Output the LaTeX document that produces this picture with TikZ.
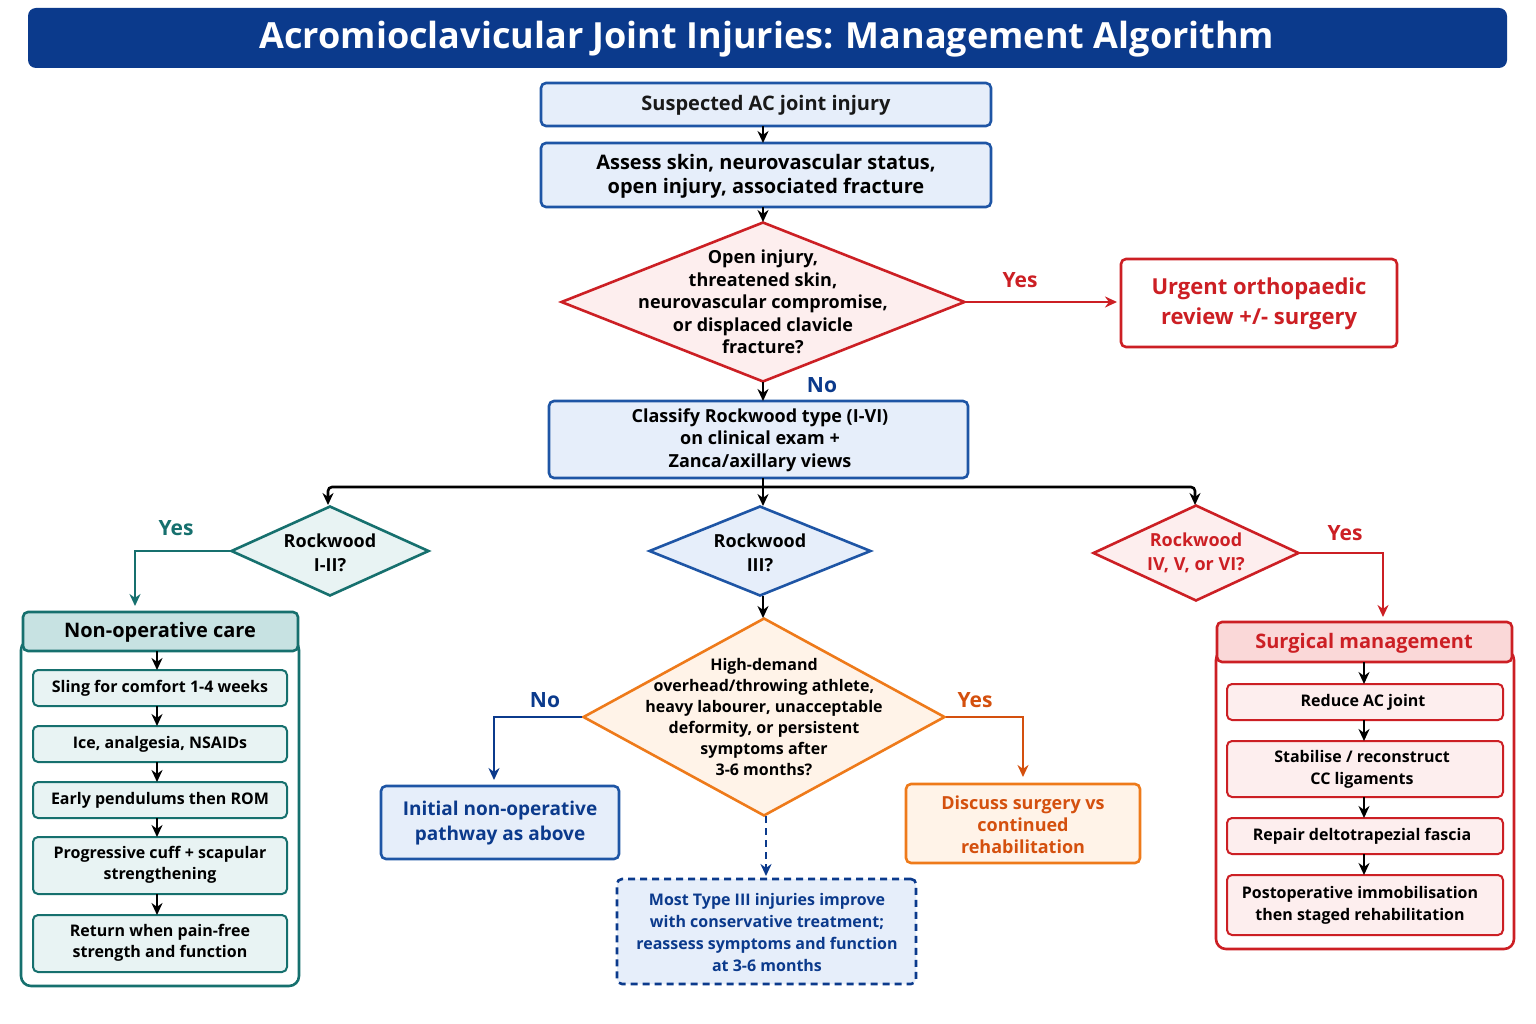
\documentclass[tikz,border=0pt]{standalone}
\usepackage{fontspec}
\setmainfont{Open Sans}
\usetikzlibrary{shapes.geometric,arrows.meta}
\definecolor{navy}{HTML}{0B3A8C}
\definecolor{bfill}{HTML}{E6EEFA}
\definecolor{bline}{HTML}{1E55A5}
\definecolor{rline}{HTML}{CC1F24}
\definecolor{rfill}{HTML}{FDEEEE}
\definecolor{tline}{HTML}{16706E}
\definecolor{tfill}{HTML}{E8F3F3}
\definecolor{thead}{HTML}{C7E2E2}
\definecolor{oline}{HTML}{EE7A1A}
\definecolor{ofill}{HTML}{FFF3E8}
\definecolor{otext}{HTML}{D4500E}
\definecolor{rhead}{HTML}{FAD8D8}
\begin{document}
\begin{tikzpicture}[x=1pt,y=-1pt,
 box/.style={draw,rounded corners=5pt,line width=2.6pt,align=center,font=\bfseries,inner sep=0pt},
 dia/.style={draw,diamond,line width=2.6pt,align=center,font=\bfseries,inner sep=0pt},
 arr/.style={-{Stealth[length=12pt,width=11pt]},line width=2.6pt},
 lbl/.style={font=\bfseries\fontsize{21}{24}\selectfont}]
\useasboundingbox (0,0) rectangle (1536,1024);
\fill[white] (0,0) rectangle (1536,1024);
\newcommand{\bx}[6]{\node[box,#6,minimum width=#3-#1,minimum height=#4-#2] (#5) at ({(#1+#3)/2},{(#2+#4)/2}) {};}
% title
\fill[navy,rounded corners=8pt] (28,8) rectangle (1507,68);
\node[text=white,font=\bfseries\fontsize{36}{40}\selectfont] (title) at (767,39) {Acromioclavicular Joint Injuries: Management Algorithm};
% top chain
\bx{541}{83}{991}{126}{b1}{draw=bline,fill=bfill}
\node[font=\bfseries\fontsize{20}{24}\selectfont,text=black!90] at (766,105) {Suspected AC joint injury};
\bx{541}{143}{991}{207}{b2}{draw=bline,fill=bfill}
\node[font=\bfseries\fontsize{20}{24}\selectfont,align=center] at (766,176) {Assess skin, neurovascular status,\\open injury, associated fracture};
\node[dia,draw=rline,fill=rfill,minimum width=404pt,minimum height=160pt] (d1) at (763,302) {};
\node[font=\bfseries\fontsize{18}{22.5}\selectfont,align=center] at (763,302) {Open injury,\\threatened skin,\\neurovascular compromise,\\or displaced clavicle\\fracture?};
\bx{1121}{259}{1397}{347}{urg}{draw=rline,fill=white}
\node[font=\bfseries\fontsize{22}{30}\selectfont,text=rline,align=center] at (1259,304) {Urgent orthopaedic\\review +/- surgery};
\bx{549}{401}{968}{478}{b3}{draw=bline,fill=bfill}
\node[font=\bfseries\fontsize{18}{22.5}\selectfont,align=center] at (760,440) {Classify Rockwood type (I-VI)\\on clinical exam +\\Zanca/axillary views};
\draw[arr] (763,126) -- (763,143);
\draw[arr] (763,207) -- (763,222);
\draw[arr,rline] (d1.east) -- (1117,302);
\node[lbl,text=rline] at (1020,280) {Yes};
\draw[arr] (763,382) -- (763,401);
\node[lbl,text=navy] at (822,385) {No};
% branches
\node[dia,draw=tline,fill=tfill,minimum width=198pt,minimum height=90pt] (d2) at (330,551) {};
\node[font=\bfseries\fontsize{18}{24}\selectfont,align=center] at (330,553) {Rockwood\\I-II?};
\node[dia,draw=bline,fill=bfill,minimum width=222pt,minimum height=90pt] (d3) at (760,551) {};
\node[font=\bfseries\fontsize{18}{24}\selectfont,align=center] at (760,553) {Rockwood\\III?};
\node[dia,draw=rline,fill=rfill,minimum width=206pt,minimum height=96pt] (d4) at (1196,553) {};
\node[font=\bfseries\fontsize{18}{24}\selectfont,align=center,text=rline] at (1196,553) {Rockwood\\IV, V, or VI?};
\coordinate (j) at (763,487);
\draw[line width=2.6pt] (763,478) -- (j);
\draw[line width=2.6pt,rounded corners=4pt] (328,500) -- (328,487) -- (1195,487) -- (1195,500);
\draw[arr] (328,490) -- (328,505);
\draw[arr] (1195,490) -- (1195,505);
\draw[arr] (j) -- (763,506);
% non-operative
\draw[tline,line width=2.6pt,rounded corners=10pt] (21,640) rectangle (299,986);
\bx{23}{612}{298}{651}{nh}{draw=tline,fill=thead}
\node[font=\bfseries\fontsize{20}{24}\selectfont] at (160,632) {Non-operative care};
\draw[arr,tline] (d2.west) -- (135,551) -- (135,606);
\node[lbl,text=tline] at (176,528) {Yes};
\bx{33}{670}{287}{706}{n1}{draw=tline,fill=tfill,line width=2pt}
\bx{33}{726}{287}{762}{n2}{draw=tline,fill=tfill,line width=2pt}
\bx{33}{782}{287}{818}{n3}{draw=tline,fill=tfill,line width=2pt}
\bx{33}{837}{287}{894}{n4}{draw=tline,fill=tfill,line width=2pt}
\bx{33}{915}{287}{972}{n5}{draw=tline,fill=tfill,line width=2pt}
\begin{scope}[every node/.append style={font=\bfseries\fontsize{16}{21}\selectfont,align=center}]
\node at (160,688) {Sling for comfort 1-4 weeks};
\node at (160,744) {Ice, analgesia, NSAIDs};
\node at (160,800) {Early pendulums then ROM};
\node at (160,865) {Progressive cuff + scapular\\strengthening};
\node at (160,943) {Return when pain-free\\strength and function};
\end{scope}
\draw[arr] (157,651) -- (157,670);
\draw[arr] (157,706) -- (157,726);
\draw[arr] (157,762) -- (157,782);
\draw[arr] (157,818) -- (157,837);
\draw[arr] (157,894) -- (157,915);
% type III
\node[dia,draw=oline,fill=ofill,minimum width=362pt,minimum height=198pt] (d5) at (764,717) {};
\node[font=\bfseries\fontsize{16}{21}\selectfont,align=center] at (764,717) {High-demand\\overhead/throwing athlete,\\heavy labourer, unacceptable\\deformity, or persistent\\symptoms after\\3-6 months?};
\draw[arr] (763,596) -- (763,618);
\bx{381}{786}{619}{859}{io}{draw=bline,fill=bfill}
\node[font=\bfseries\fontsize{19}{25}\selectfont,align=center,text=navy] at (500,823) {Initial non-operative\\pathway as above};
\bx{906}{784}{1140}{863}{ds}{draw=oline,fill=ofill}
\node[font=\bfseries\fontsize{18}{22}\selectfont,align=center,text=otext] at (1023,825) {Discuss surgery vs\\continued\\rehabilitation};
\draw[arr,navy] (d5.west) -- (494,717) -- (494,780);
\node[lbl,text=navy] at (545,700) {No};
\draw[arr,otext] (d5.east) -- (1023,717) -- (1023,777);
\node[lbl,text=otext] at (975,700) {Yes};
\bx{617}{879}{916}{984}{mt}{draw=navy,fill=bfill,dash pattern=on 7pt off 5pt}
\node[font=\bfseries\fontsize{16}{22}\selectfont,align=center,text=navy] at (767,932) {Most Type III injuries improve\\with conservative treatment;\\reassess symptoms and function\\at 3-6 months};
\draw[arr,navy,dash pattern=on 7pt off 5pt] (766,816) -- (766,876);
% surgical
\draw[rline,line width=2.6pt,rounded corners=10pt] (1216,650) rectangle (1514,949);
\bx{1217}{622}{1512}{662}{sh}{draw=rline,fill=rhead}
\node[font=\bfseries\fontsize{20}{24}\selectfont,text=rline] at (1364,643) {Surgical management};
\draw[arr,rline] (d4.east) -- (1383,553) -- (1383,617);
\node[lbl,text=rline] at (1345,533) {Yes};
\bx{1227}{684}{1503}{720}{s1}{draw=rline,fill=rfill,line width=2pt}
\bx{1227}{741}{1503}{797}{s2}{draw=rline,fill=rfill,line width=2pt}
\bx{1227}{818}{1503}{854}{s3}{draw=rline,fill=rfill,line width=2pt}
\bx{1227}{875}{1503}{935}{s4}{draw=rline,fill=rfill,line width=2pt}
\begin{scope}[every node/.append style={font=\bfseries\fontsize{16}{22}\selectfont,align=center}]
\node at (1363,702) {Reduce AC joint};
\node at (1362,769) {Stabilise / reconstruct\\CC ligaments};
\node at (1362,836) {Repair deltotrapezial fascia};
\node at (1360,905) {Postoperative immobilisation\\then staged rehabilitation};
\end{scope}
\draw[arr] (1364,662) -- (1364,684);
\draw[arr] (1364,720) -- (1364,741);
\draw[arr] (1364,797) -- (1364,818);
\draw[arr] (1364,854) -- (1364,875);
\end{tikzpicture}
\end{document}
